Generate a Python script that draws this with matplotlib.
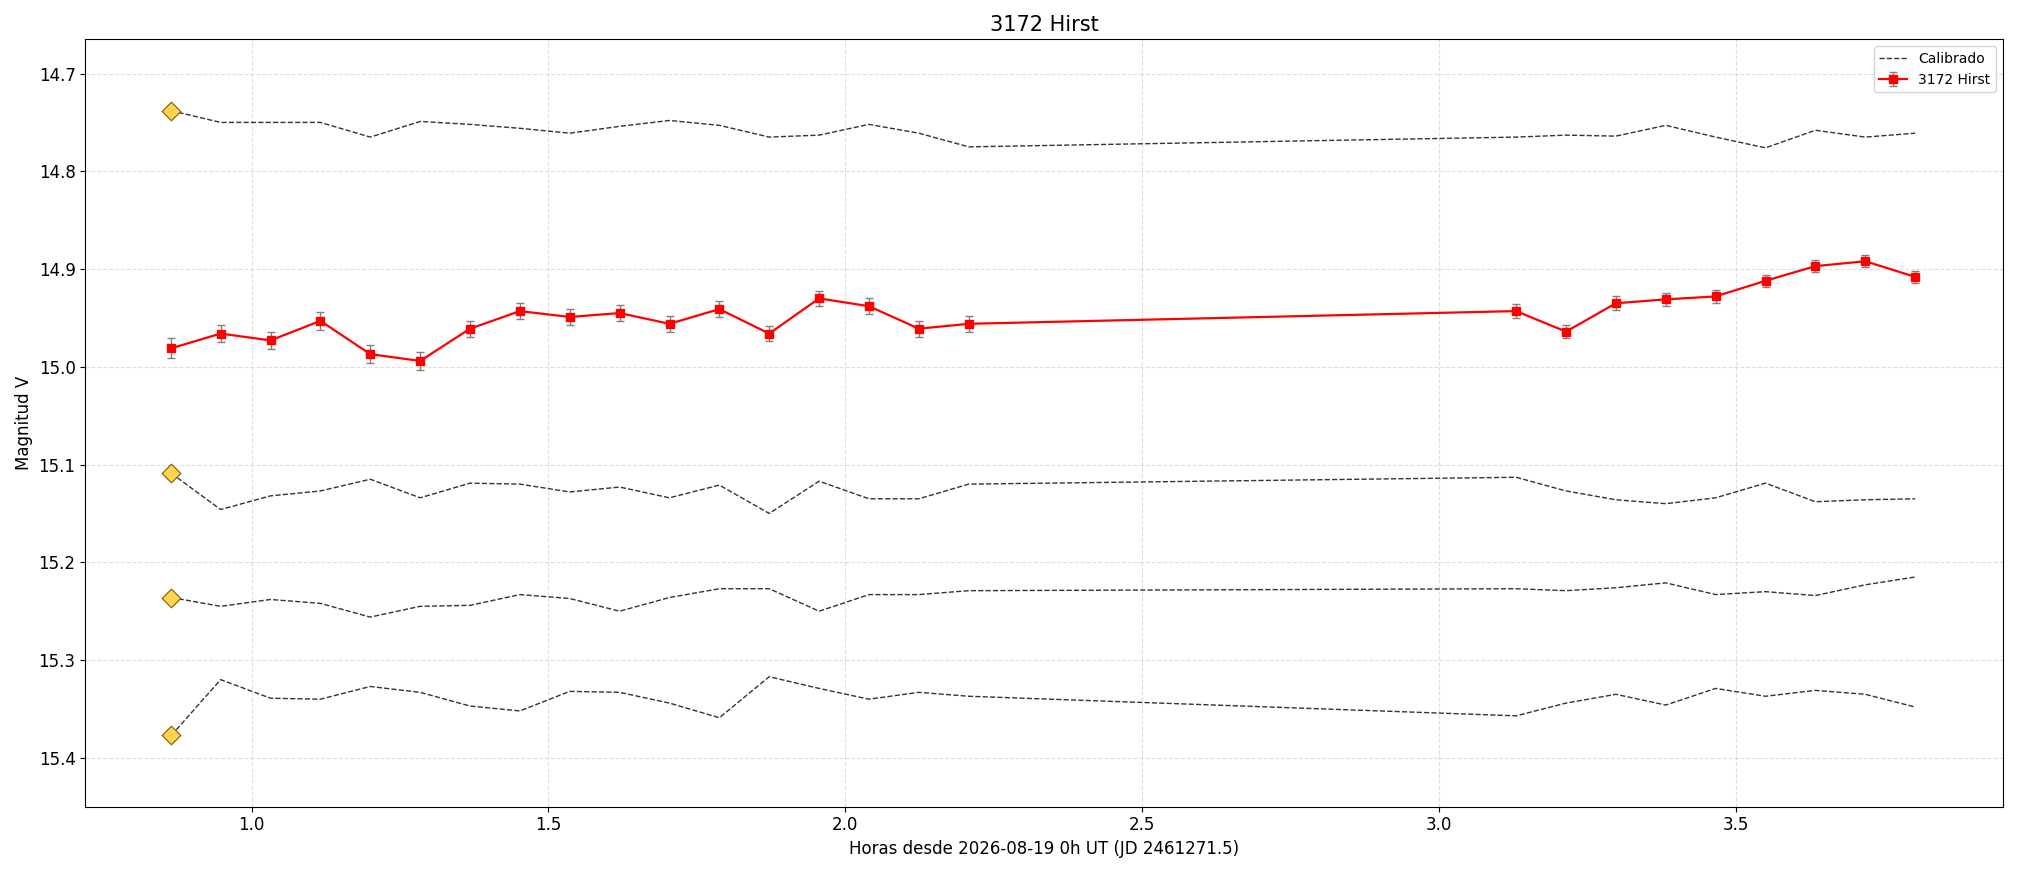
import matplotlib
matplotlib.use("Agg")
import matplotlib.pyplot as plt
import numpy as np

# hours since 2026-08-19 0h UT
hours = [0.865, 0.948, 1.032, 1.116, 1.200, 1.284, 1.368, 1.452, 1.536, 1.620, 1.704, 1.788, 1.872,
         1.956, 2.040, 2.124, 2.208, 3.130, 3.214, 3.298, 3.382, 3.466, 3.550, 3.634, 3.718, 3.802]

target_mag = [14.981, 14.966, 14.973, 14.953, 14.987, 14.994, 14.961, 14.943, 14.949, 14.945, 14.956,
              14.941, 14.966, 14.930, 14.938, 14.961, 14.956, 14.943, 14.964, 14.935, 14.931, 14.928,
              14.912, 14.897, 14.892, 14.908]
target_err = [0.010, 0.009, 0.009, 0.009, 0.009, 0.009, 0.008, 0.008, 0.008, 0.008, 0.008, 0.008, 0.008,
              0.008, 0.008, 0.008, 0.008, 0.007, 0.007, 0.007, 0.007, 0.007, 0.006, 0.006, 0.006, 0.006]

comp1 = [14.738, 14.750, 14.750, 14.750, 14.765, 14.749, 14.752, 14.756, 14.761, 14.754, 14.748, 14.753,
         14.765, 14.763, 14.752, 14.761, 14.775, 14.765, 14.763, 14.764, 14.753, 14.765, 14.776, 14.758,
         14.765, 14.761]
comp2 = [15.109, 15.146, 15.132, 15.127, 15.115, 15.134, 15.119, 15.120, 15.128, 15.123, 15.134, 15.121,
         15.150, 15.117, 15.135, 15.135, 15.120, 15.113, 15.127, 15.136, 15.140, 15.134, 15.119, 15.138,
         15.136, 15.135]
comp3 = [15.236, 15.245, 15.238, 15.242, 15.256, 15.245, 15.244, 15.233, 15.237, 15.250, 15.236, 15.227,
         15.227, 15.250, 15.233, 15.233, 15.229, 15.227, 15.229, 15.226, 15.221, 15.233, 15.230, 15.234,
         15.223, 15.215]
comp4 = [15.377, 15.320, 15.339, 15.340, 15.327, 15.333, 15.347, 15.352, 15.332, 15.333, 15.344, 15.359,
         15.317, 15.329, 15.340, 15.333, 15.337, 15.357, 15.344, 15.335, 15.346, 15.329, 15.337, 15.331,
         15.335, 15.348]
comps = [comp1, comp2, comp3, comp4]

fig, ax = plt.subplots(figsize=(20.18, 8.73), dpi=100)

for i, comp in enumerate(comps):
    ax.plot(hours, comp, linestyle="--", color="#333333", linewidth=1.0,
            label="Calibrado" if i == 0 else None)
    ax.scatter([hours[0]], [comp[0]], marker="D", s=90, color="#ffd54f",
               edgecolor="#7a5c00", linewidth=0.8, zorder=4)

ax.errorbar(hours, target_mag, yerr=target_err, color="red", marker="s", markersize=6,
            linewidth=1.6, ecolor="gray", elinewidth=1.0, capsize=3, label="3172 Hirst", zorder=3)

ax.set_ylim(15.45, 14.665)
ax.set_xlim(0.72, 3.95)
ax.set_title("3172 Hirst", fontsize=15)
ax.set_xlabel("Horas desde 2026-08-19 0h UT (JD 2461271.5)", fontsize=12)
ax.set_ylabel("Magnitud V", fontsize=12)
ax.tick_params(labelsize=12)
ax.grid(True, linestyle="--", alpha=0.4)
ax.legend(loc="upper right", fontsize=10)
fig.tight_layout()
fig.savefig("out.png")
